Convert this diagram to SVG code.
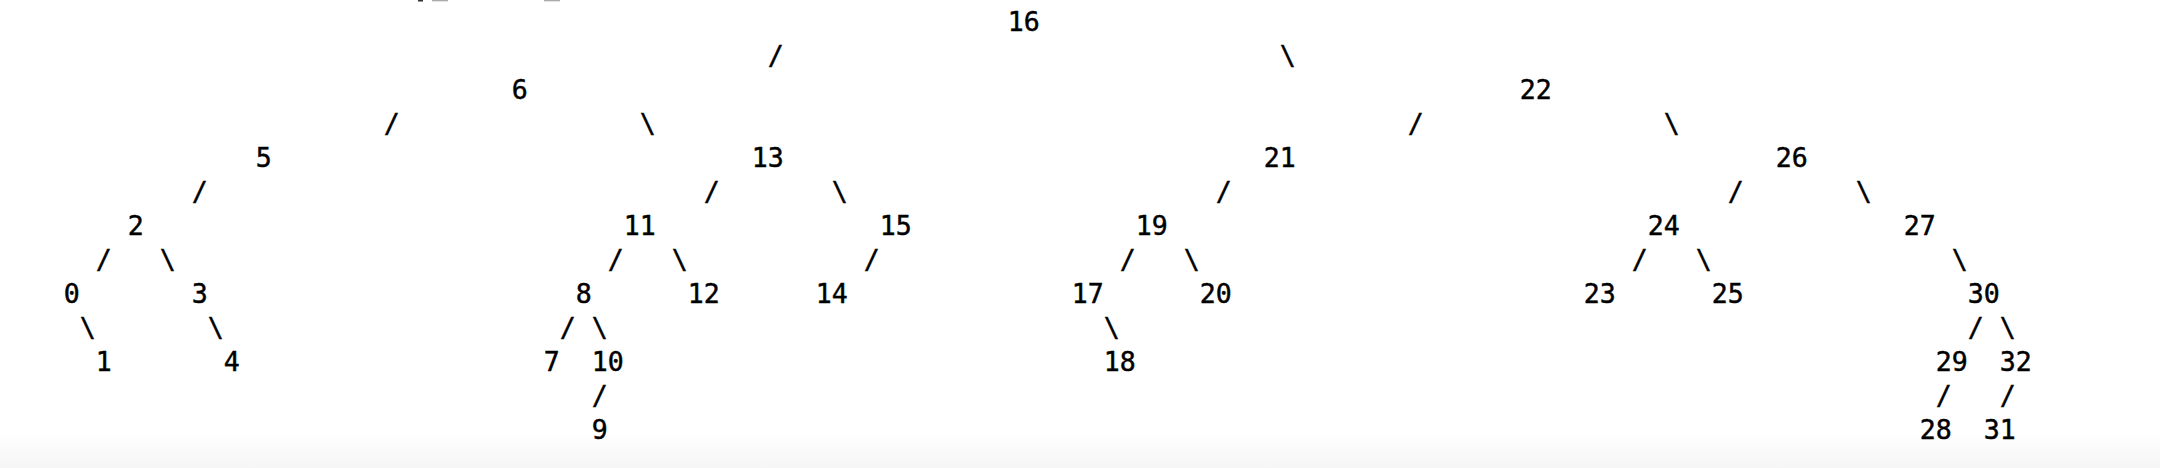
<svg xmlns="http://www.w3.org/2000/svg" width="2160" height="468" viewBox="0 0 2160 468">
<style>
text{font-family:"DejaVu Sans Mono","Liberation Mono",monospace;font-size:26.57px;fill:#000;stroke:#000;stroke-width:0.45px}
</style>
<defs>
<linearGradient id="fade" x1="0" y1="0" x2="0" y2="1">
<stop offset="0" stop-color="#ffffff"/>
<stop offset="1" stop-color="#f6f6f6"/>
</linearGradient>
</defs>
<rect width="2160" height="468" fill="#fff"/>
<rect x="0" y="432" width="2160" height="36" fill="url(#fade)"/>
<rect x="418" y="0" width="5" height="1.5" fill="#333"/>
<rect x="432" y="0" width="16" height="1.3" fill="#aaa"/>
<rect x="544" y="0" width="16" height="1.3" fill="#aaa"/>
<g id="connectors">
<text x="767.7" y="64.7">/</text>
<text x="1279.7" y="64.7">\</text>
<text x="383.7" y="132.7">/</text>
<text x="639.7" y="132.7">\</text>
<text x="1407.7" y="132.7">/</text>
<text x="1663.7" y="132.7">\</text>
<text x="191.7" y="200.7">/</text>
<text x="703.7" y="200.7">/</text>
<text x="831.7" y="200.7">\</text>
<text x="1215.7" y="200.7">/</text>
<text x="1727.7" y="200.7">/</text>
<text x="1855.7" y="200.7">\</text>
<text x="95.7" y="268.7">/</text>
<text x="159.7" y="268.7">\</text>
<text x="607.7" y="268.7">/</text>
<text x="671.7" y="268.7">\</text>
<text x="863.7" y="268.7">/</text>
<text x="1119.7" y="268.7">/</text>
<text x="1183.7" y="268.7">\</text>
<text x="1631.7" y="268.7">/</text>
<text x="1695.7" y="268.7">\</text>
<text x="1951.7" y="268.7">\</text>
<text x="79.7" y="336.7">\</text>
<text x="207.7" y="336.7">\</text>
<text x="559.7" y="336.7">/</text>
<text x="591.7" y="336.7">\</text>
<text x="1103.7" y="336.7">\</text>
<text x="1967.7" y="336.7">/</text>
<text x="1999.7" y="336.7">\</text>
<text x="591.7" y="404.7">/</text>
<text x="1935.7" y="404.7">/</text>
<text x="1999.7" y="404.7">/</text>
</g>
<g id="n16"><text x="1007.7" y="30.7">16</text></g>
<g id="n6"><text x="511.7" y="98.7">6</text></g>
<g id="n22"><text x="1519.7" y="98.7">22</text></g>
<g id="n5"><text x="255.7" y="166.7">5</text></g>
<g id="n13"><text x="751.7" y="166.7">13</text></g>
<g id="n21"><text x="1263.7" y="166.7">21</text></g>
<g id="n26"><text x="1775.7" y="166.7">26</text></g>
<g id="n2"><text x="127.7" y="234.7">2</text></g>
<g id="n11"><text x="623.7" y="234.7">11</text></g>
<g id="n15"><text x="879.7" y="234.7">15</text></g>
<g id="n19"><text x="1135.7" y="234.7">19</text></g>
<g id="n24"><text x="1647.7" y="234.7">24</text></g>
<g id="n27"><text x="1903.7" y="234.7">27</text></g>
<g id="n0"><text x="63.7" y="302.7">0</text></g>
<g id="n3"><text x="191.7" y="302.7">3</text></g>
<g id="n8"><text x="575.7" y="302.7">8</text></g>
<g id="n12"><text x="687.7" y="302.7">12</text></g>
<g id="n14"><text x="815.7" y="302.7">14</text></g>
<g id="n17"><text x="1071.7" y="302.7">17</text></g>
<g id="n20"><text x="1199.7" y="302.7">20</text></g>
<g id="n23"><text x="1583.7" y="302.7">23</text></g>
<g id="n25"><text x="1711.7" y="302.7">25</text></g>
<g id="n30"><text x="1967.7" y="302.7">30</text></g>
<g id="n1"><text x="95.7" y="370.7">1</text></g>
<g id="n4"><text x="223.7" y="370.7">4</text></g>
<g id="n7"><text x="543.7" y="370.7">7</text></g>
<g id="n10"><text x="591.7" y="370.7">10</text></g>
<g id="n18"><text x="1103.7" y="370.7">18</text></g>
<g id="n29"><text x="1935.7" y="370.7">29</text></g>
<g id="n32"><text x="1999.7" y="370.7">32</text></g>
<g id="n9"><text x="591.7" y="438.7">9</text></g>
<g id="n28"><text x="1919.7" y="438.7">28</text></g>
<g id="n31"><text x="1983.7" y="438.7">31</text></g>
</svg>
